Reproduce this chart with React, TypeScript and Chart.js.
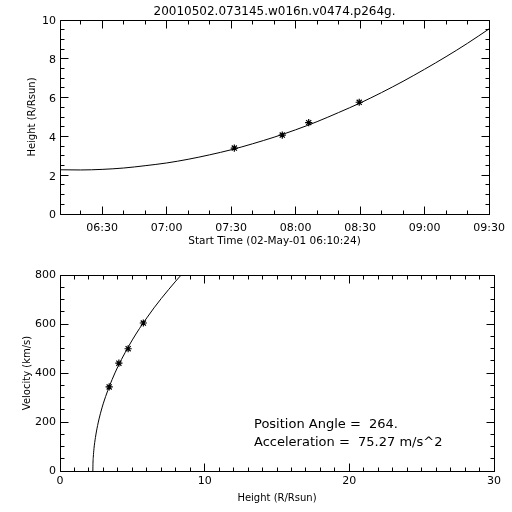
import React, { useEffect, useRef } from 'react';
import { Chart, registerables } from 'chart.js';

Chart.register(...registerables);

const PLOT_TITLE = '20010502.073145.w016n.v0474.p264g.';
const TIME_AXIS_TITLE = 'Start Time (02-May-01 06:10:24)';
const HEIGHT_AXIS_TITLE = 'Height (R/Rsun)';
const VELOCITY_AXIS_TITLE = 'Velocity (km/s)';
const ANNOTATION_LINES = ['Position Angle =  264.', 'Acceleration =  75.27 m/s^2'];

// time axis: minutes after 06:00 UT
const TIME_MIN = 10.4;
const TIME_MAX = 210;
const fitTimes = [10.4, 20, 30, 40, 50, 60, 70, 80, 90, 100, 110, 120, 130, 140, 150, 160, 170, 180, 190, 200, 210];
const fitHeights = [2.28, 2.27, 2.3, 2.37, 2.49, 2.63, 2.82, 3.05, 3.31, 3.62, 3.96, 4.34, 4.76, 5.23, 5.72, 6.26, 6.84, 7.46, 8.11, 8.8, 9.54];

const obsTimes = [91.5, 113.8, 126.1, 149.6];
const obsHeights = [3.4, 4.07, 4.71, 5.76];
const obsVelocities = [343, 440, 499, 604];

const velCurveHeights = [2.27, 2.28, 2.3, 2.35, 2.45, 2.6, 2.8, 3.0, 3.3, 3.6, 4.0, 4.5, 5.0, 5.5, 6.0, 6.5, 7.0, 7.5, 8.0, 8.5];
const velCurveVelocities = [0, 32, 56, 92, 137, 186, 236, 277, 328, 373, 426, 483, 535, 582, 625, 666, 704, 740, 775, 808];

const timeMajorTicks = [30, 60, 90, 120, 150, 180, 210];
const timeMinorTicks = [20, 40, 50, 70, 80, 100, 110, 130, 140, 160, 170, 190, 200];
const heightMajorTicks = [0, 2, 4, 6, 8, 10];
const heightMinorStep = 0.5;
const hAxisMajorTicks = [0, 10, 20, 30];
const hAxisMinorStep = 1;
const velMajorTicks = [0, 200, 400, 600, 800];
const velMinorStep = 50;

const FONT = 'DejaVu Sans';

const steps = (min: number, max: number, step: number) => {
  const out: number[] = [];
  for (let v = min; v <= max + 1e-9; v += step) out.push(Math.round(v * 1000) / 1000);
  return out;
};

const fmtTime = (m: number) => {
  const hh = 6 + Math.floor(m / 60);
  const mm = Math.round(m % 60);
  return `${String(hh).padStart(2, '0')}:${String(mm).padStart(2, '0')}`;
};

const framePlugin = (
  xMajor: number[], xMinor: number[], yMajor: number[], yMinor: number[], annotation?: string[]
) => ({
  id: 'idlFrame',
  afterDraw(chart: any) {
    const { ctx, chartArea: a, scales } = chart;
    const c = (p: number) => Math.floor(p) + 0.5;
    const L = c(a.left), R = c(a.right), T = c(a.top), B = c(a.bottom);
    ctx.save();
    ctx.strokeStyle = '#000';
    ctx.lineWidth = 1;
    ctx.beginPath();
    ctx.rect(L, T, R - L, B - T);
    const tx = (vals: number[], len: number) => vals.forEach((v) => {
      const p = c(scales.x.getPixelForValue(v));
      ctx.moveTo(p, B); ctx.lineTo(p, B - len);
      ctx.moveTo(p, T); ctx.lineTo(p, T + len);
    });
    const ty = (vals: number[], len: number) => vals.forEach((v) => {
      const p = c(scales.y.getPixelForValue(v));
      ctx.moveTo(L, p); ctx.lineTo(L + len, p);
      ctx.moveTo(R, p); ctx.lineTo(R - len, p);
    });
    tx(xMajor, 8); tx(xMinor, 4); ty(yMajor, 8); ty(yMinor, 4);
    ctx.stroke();
    if (annotation) {
      ctx.fillStyle = '#000';
      ctx.font = `13px "${FONT}"`;
      ctx.textAlign = 'left';
      ctx.textBaseline = 'middle';
      annotation.forEach((t, i) => ctx.fillText(t, 254, 169 + i * 17.7));
    }
    ctx.restore();
  },
});

const tickFont = { family: FONT, size: 11 };

export default function App() {
  const topRef = useRef<HTMLCanvasElement>(null);
  const botRef = useRef<HTMLCanvasElement>(null);

  useEffect(() => {
    const top = new Chart(topRef.current!, {
      type: 'scatter',
      data: {
        datasets: [
          {
            data: fitTimes.map((t, i) => ({ x: t, y: fitHeights[i] })),
            showLine: true,
            borderColor: '#000',
            borderWidth: 1,
            pointRadius: 0,
            cubicInterpolationMode: 'monotone',
          },
          {
            data: obsTimes.map((t, i) => ({ x: t, y: obsHeights[i] })),
            pointStyle: 'star',
            pointRadius: 3.6,
            borderColor: '#000',
            backgroundColor: '#000',
            borderWidth: 1.2,
          },
        ],
      } as any,
      options: {
        animation: false,
        responsive: false,
        layout: { padding: { top: 0, right: 18, left: 0, bottom: 0 } },
        plugins: {
          legend: { display: false },
          tooltip: { enabled: false },
          title: {
            display: true,
            text: PLOT_TITLE,
            fullSize: false,
            color: '#000',
            font: { family: FONT, size: 12, weight: 'normal' },
            padding: { top: 4.8, bottom: 0.8 },
          },
        },
        scales: {
          x: {
            type: 'linear',
            min: TIME_MIN,
            max: TIME_MAX,
            afterBuildTicks: (s: any) => { s.ticks = timeMajorTicks.map((v) => ({ value: v })); },
            afterFit: (s: any) => { s.height = 42; },
            ticks: { callback: (v: any) => fmtTime(Number(v)), font: tickFont, color: '#000', padding: 7.1, autoSkip: false, maxRotation: 0 },
            grid: { display: false, drawTicks: false },
            border: { display: false },
            title: { display: true, text: TIME_AXIS_TITLE, color: '#000', font: { family: FONT, size: 10.5 }, padding: { top: 0, bottom: 8.7 } },
          },
          y: {
            type: 'linear',
            min: 0,
            max: 10,
            afterBuildTicks: (s: any) => { s.ticks = heightMajorTicks.map((v) => ({ value: v })); },
            afterFit: (s: any) => { s.width = 60; },
            ticks: { font: tickFont, color: '#000', padding: 4, autoSkip: false, labelOffset: 1.5 },
            grid: { display: false, drawTicks: false },
            border: { display: false },
            title: { display: true, text: HEIGHT_AXIS_TITLE, color: '#000', font: { family: FONT, size: 10 }, padding: { top: 26, bottom: 0 } },
          },
        },
      } as any,
      plugins: [framePlugin(timeMajorTicks, timeMinorTicks, heightMajorTicks, steps(0, 10, heightMinorStep))],
    });

    const bot = new Chart(botRef.current!, {
      type: 'scatter',
      data: {
        datasets: [
          {
            data: velCurveHeights.map((h, i) => ({ x: h, y: velCurveVelocities[i] })),
            showLine: true,
            borderColor: '#000',
            borderWidth: 1,
            pointRadius: 0,
            cubicInterpolationMode: 'monotone',
          },
          {
            data: obsHeights.map((h, i) => ({ x: h, y: obsVelocities[i] })),
            pointStyle: 'star',
            pointRadius: 3.6,
            borderColor: '#000',
            backgroundColor: '#000',
            borderWidth: 1.2,
          },
        ],
      } as any,
      options: {
        animation: false,
        responsive: false,
        layout: { padding: { top: 19, right: 18, left: 0, bottom: 0 } },
        plugins: { legend: { display: false }, tooltip: { enabled: false } },
        scales: {
          x: {
            type: 'linear',
            min: 0,
            max: 30,
            afterBuildTicks: (s: any) => { s.ticks = hAxisMajorTicks.map((v) => ({ value: v })); },
            afterFit: (s: any) => { s.height = 41; },
            ticks: { font: tickFont, color: '#000', padding: 3.9, autoSkip: false, maxRotation: 0 },
            grid: { display: false, drawTicks: false },
            border: { display: false },
            title: { display: true, text: HEIGHT_AXIS_TITLE, color: '#000', font: { family: FONT, size: 10 }, padding: { top: 0, bottom: 8 } },
          },
          y: {
            type: 'linear',
            min: 0,
            max: 800,
            afterBuildTicks: (s: any) => { s.ticks = velMajorTicks.map((v) => ({ value: v })); },
            afterFit: (s: any) => { s.width = 60; },
            ticks: { font: tickFont, color: '#000', padding: 4, autoSkip: false },
            grid: { display: false, drawTicks: false },
            border: { display: false },
            title: { display: true, text: VELOCITY_AXIS_TITLE, color: '#000', font: { family: FONT, size: 10 }, padding: { top: 21.5, bottom: 0 } },
          },
        },
      } as any,
      plugins: [framePlugin(hAxisMajorTicks, steps(0, 30, hAxisMinorStep), velMajorTicks, steps(0, 800, velMinorStep), ANNOTATION_LINES)],
    });

    return () => { top.destroy(); bot.destroy(); };
  }, []);

  return (
    <div style={{ position: 'fixed', left: 0, top: 0, width: 512, height: 512, background: '#fff' }}>
      <canvas ref={topRef} width={512} height={256} style={{ position: 'absolute', left: 0, top: 0, display: 'block' }} />
      <canvas ref={botRef} width={512} height={256} style={{ position: 'absolute', left: 0, top: 256, display: 'block' }} />
    </div>
  );
}
